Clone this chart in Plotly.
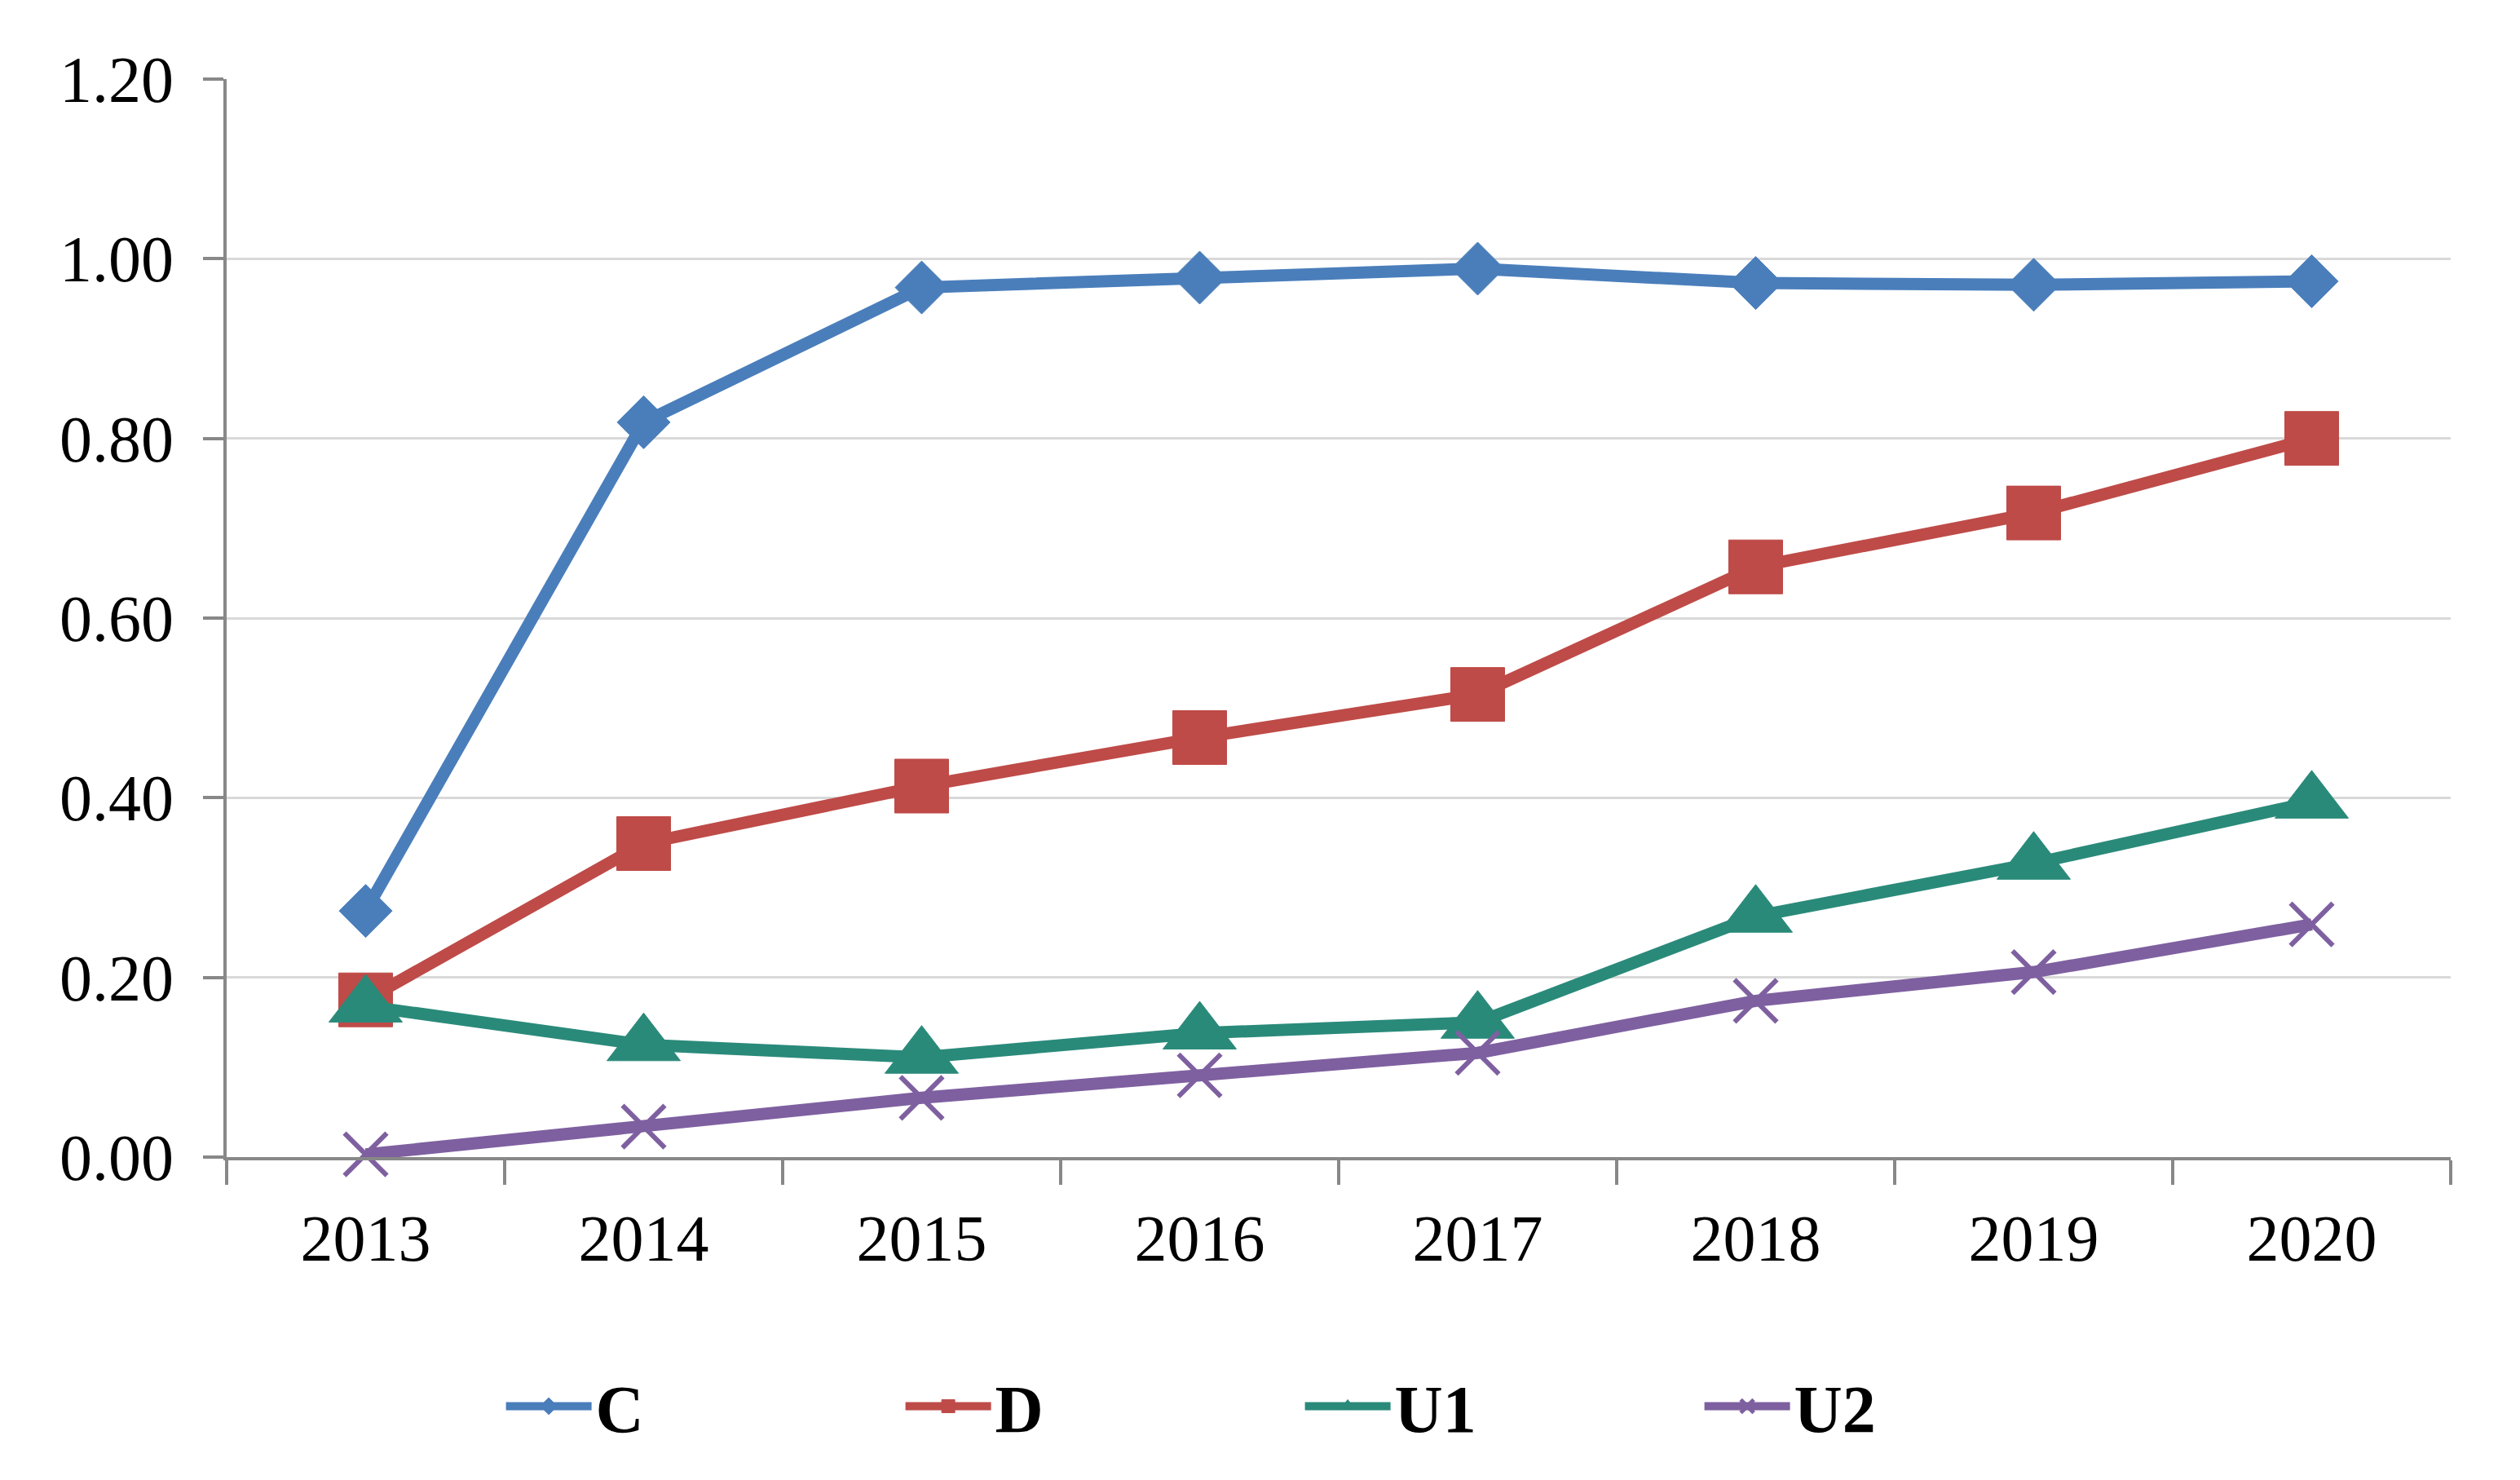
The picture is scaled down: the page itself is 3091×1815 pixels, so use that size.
import plotly.graph_objects as go

# years on the category axis
years = ["2013", "2014", "2015", "2016", "2017", "2018", "2019", "2020"]

# series values
c_vals = [0.274, 0.818, 0.968, 0.979, 0.989, 0.973, 0.971, 0.975]
d_vals = [0.175, 0.349, 0.413, 0.467, 0.515, 0.657, 0.717, 0.800]
u1_vals = [0.168, 0.125, 0.111, 0.138, 0.150, 0.268, 0.327, 0.395]
u2_vals = [0.003, 0.034, 0.066, 0.091, 0.116, 0.174, 0.206, 0.259]

y_ticks = [0, 0.2, 0.4, 0.6, 0.8, 1.0, 1.2]

series = [
    ("C", c_vals, "#4A7EBB", "diamond", 50, 1),
    ("D", d_vals, "#BE4B48", "square", 66, 1),
    ("U1", u1_vals, "#2A8A7A", "triangle-up", 78, 1),
    ("U2", u2_vals, "#7E60A0", "x-thin-open", 52, 6),
]

fig = go.Figure()

for name, vals, color, symbol, size, lw in series:
    fig.add_trace(go.Scatter(
        x=years,
        y=vals,
        name=name,
        mode="lines+markers",
        line=dict(color=color, width=15),
        marker=dict(symbol=symbol, size=size, color=color,
                    line=dict(color=color, width=lw)),
        cliponaxis=False,
    ))

# page body adds an 8px offset, so the figure is a bit smaller than the window
fig.update_layout(
    width=3083,
    height=1807,
    margin=dict(l=270, r=85, t=89, b=396),
    paper_bgcolor="white",
    plot_bgcolor="white",
    font=dict(family="Liberation Serif, Times New Roman, serif", size=80, color="black"),
    showlegend=True,
    legend=dict(
        orientation="h",
        x=0.483, xanchor="center",
        yref="container",
        y=0.05, yanchor="middle",
        font=dict(size=82, family="Liberation Serif, Times New Roman, serif",
                  weight="bold"),
        entrywidth=370,
        itemwidth=105,
    ),
)

fig.update_xaxes(
    type="category",
    range=[-0.5, 7.5],
    tickson="boundaries",
    ticks="outside",
    ticklen=30,
    tickwidth=4,
    tickcolor="#888888",
    showline=True,
    linecolor="#888888",
    linewidth=4,
    showgrid=False,
    tickfont=dict(size=80),
    ticklabelstandoff=27,
)

fig.update_yaxes(
    range=[0, 1.2],
    tickvals=y_ticks,
    tickformat=".2f",
    ticks="outside",
    ticklen=25,
    tickwidth=4,
    tickcolor="#888888",
    showline=True,
    linecolor="#888888",
    linewidth=4,
    showgrid=True,
    gridcolor="#D9D9D9",
    gridwidth=3,
    zeroline=False,
    tickfont=dict(size=80),
    ticklabelstandoff=20,
)

fig.write_html("out.html")
